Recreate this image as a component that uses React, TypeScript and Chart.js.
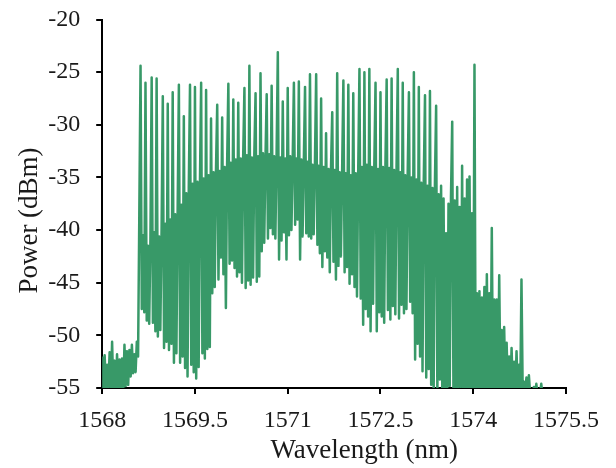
import React, { useEffect, useRef } from "react";
import { Chart, registerables } from "chart.js";

Chart.register(...registerables);

const WL_START = 1568;
const WL_STEP = 0.02;

const X_TICKS = [1568, 1569.5, 1571, 1572.5, 1574, 1575.5];
const Y_TICKS = [-55, -50, -45, -40, -35, -30, -25, -20];

const X_TITLE = "Wavelength (nm)";
const Y_TITLE = "Power (dBm)";

// 1568.00 - 1568.58 nm : noise floor before the comb
const powerFloorLeft = [
  -52.0, -55.5, -51.9, -55.6, -52.8, -54.9, -51.6, -55.4, -50.6, -55.3,
  -52.4, -55.7, -51.8, -55.2, -52.3, -55.5, -52.2, -55.4, -50.9, -54.8,
  -51.5, -54.7, -51.4, -53.9, -50.9, -53.6, -51.8, -53.5, -50.6, -52.0,
];

// 1568.60 - 1570.38 nm : rising side of the comb
const powerCombRise = [
  -38.5, -24.4, -47.5, -40.5, -47.8, -26.0, -48.6, -41.5, -48.9, -40.8,
  -25.5, -48.8, -40.2, -49.6, -25.6, -50.1, -40.6, -49.5, -40.0, -27.3,
  -51.2, -39.4, -50.6, -28.0, -51.4, -39.0, -50.8, -26.9, -52.6, -38.5,
  -51.7, -37.9, -26.2, -52.6, -37.6, -52.0, -29.2, -53.1, -36.5, -53.9,
  -36.0, -26.2, -52.8, -35.6, -53.5, -26.4, -54.1, -35.4, -53.0, -35.8,
  -26.0, -51.7, -35.1, -52.2, -26.7, -51.3, -34.8, -51.1, -29.4, -46.0,
  -34.5, -45.4, -34.2, -28.1, -44.7, -34.4, -42.6, -29.3, -44.2, -34.0,
  -47.4, -33.8, -26.1, -43.2, -33.6, -42.9, -27.6, -43.6, -33.3, -44.4,
  -27.9, -44.0, -33.2, -45.0, -33.0, -26.5, -45.5, -32.9, -44.8, -24.4,
];

// 1570.40 - 1572.18 nm : centre of the comb
const powerCombCenter = [
  -45.2, -33.1, -44.5, -32.8, -27.0, -44.9, -33.0, -44.4, -25.1, -42.0,
  -32.7, -41.2, -33.2, -27.1, -40.8, -32.8, -39.8, -26.3, -40.4, -33.0,
  -40.8, -32.9, -23.1, -42.8, -33.1, -41.0, -27.8, -40.2, -33.2, -42.8,
  -26.5, -40.5, -33.0, -40.0, -33.4, -26.0, -39.5, -33.2, -39.0, -25.9,
  -42.8, -33.3, -40.6, -33.6, -26.4, -40.3, -33.5, -40.6, -25.2, -40.8,
  -33.8, -40.4, -33.6, -25.2, -41.4, -33.9, -42.2, -27.5, -43.5, -34.0,
  -42.0, -30.8, -42.6, -34.2, -44.0, -34.0, -28.8, -43.0, -34.3, -44.7,
  -25.1, -43.4, -34.5, -42.5, -34.4, -25.8, -44.0, -34.6, -43.5, -26.2,
  -45.1, -34.8, -44.2, -27.0, -45.4, -34.6, -46.3, -34.4, -24.7, -46.5,
];

// 1572.20 - 1574.04 nm : falling side of the comb
const powerCombFall = [
  -34.0, -49.0, -25.0, -47.5, -33.8, -48.2, -24.7, -49.6, -34.0, -47.0,
  -33.9, -26.0, -49.6, -34.2, -47.8, -26.9, -48.2, -34.0, -48.8, -33.8,
  -25.7, -47.6, -34.1, -48.5, -25.6, -47.2, -34.3, -48.0, -34.0, -24.7,
  -48.4, -34.5, -47.1, -26.0, -47.9, -34.8, -47.5, -34.6, -26.9, -46.8,
  -35.0, -47.9, -25.0, -52.3, -35.2, -50.8, -26.4, -52.0, -35.5, -53.4,
  -35.3, -27.2, -54.0, -35.8, -53.2, -26.8, -54.7, -36.0, -55.5, -35.7,
  -28.2, -55.6, -36.6, -54.2, -35.8, -55.5, -37.0, -55.3, -40.3, -55.6,
  -37.5, -54.8, -36.8, -29.7, -55.5, -37.2, -55.4, -35.9, -55.6, -37.8,
  -54.9, -33.9, -55.6, -37.0, -55.3, -35.2, -55.7, -34.9, -55.2, -38.4,
  -55.5, -24.3, -55.6,
];

// 1574.06 - 1575.12 nm : tail after the comb
const powerTailRight = [
  -46.0, -55.4, -45.8, -55.6, -46.4, -55.3, -45.4, -55.5, -44.2, -55.6,
  -46.0, -55.2, -39.8, -55.5, -46.6, -55.4, -46.6, -55.6, -44.3, -55.3,
  -49.5, -55.6, -49.2, -55.4, -50.7, -55.5, -52.0, -55.6, -51.2, -55.4,
  -52.5, -55.6, -51.5, -55.5, -52.8, -55.6, -44.7, -55.5, -54.4, -55.6,
  -54.0, -55.6, -53.8, -55.6, -55.2, -55.7, -54.9, -55.6, -54.6, -55.6,
  -55.5, -55.6, -54.6, -55.8,
];

const LINE_COLOR = "rgb(56,153,104)";
const TEXT_COLOR = "#1a1a1a";
const FONT_FAMILY = "'Liberation Serif', 'Times New Roman', serif";

export default function App() {
  const ref = useRef<HTMLCanvasElement>(null);

  useEffect(() => {
    document.body.style.margin = "0";
    const power = [
      ...powerFloorLeft,
      ...powerCombRise,
      ...powerCombCenter,
      ...powerCombFall,
      ...powerTailRight,
    ];
    const points = power.map((p, i) => ({ x: WL_START + WL_STEP * i, y: p }));

    const axisTitles = {
      id: "axisTitles",
      afterDraw(chart: any) {
        const { ctx, chartArea } = chart;
        ctx.save();
        ctx.fillStyle = TEXT_COLOR;
        ctx.font = `27px ${FONT_FAMILY}`;
        ctx.textAlign = "center";
        ctx.textBaseline = "alphabetic";
        ctx.fillText(X_TITLE, chartArea.left + 262, chartArea.bottom + 70);
        ctx.translate(37, chartArea.top + 201);
        ctx.rotate(-Math.PI / 2);
        ctx.fillText(Y_TITLE, 0, 0);
        ctx.restore();
      },
    };

    const chart = new Chart(ref.current as HTMLCanvasElement, {
      type: "line",
      data: {
        datasets: [
          {
            data: points,
            borderColor: LINE_COLOR,
            backgroundColor: LINE_COLOR,
            borderWidth: 2.5,
            borderJoinStyle: "round",
            pointRadius: 0,
            fill: false,
            tension: 0,
          },
        ],
      },
      options: {
        animation: false,
        responsive: false,
        devicePixelRatio: 1,
        layout: { padding: { left: 0, top: 19.5, right: 50, bottom: 0 } },
        plugins: { legend: { display: false }, tooltip: { enabled: false } },
        scales: {
          x: {
            type: "linear",
            min: X_TICKS[0],
            max: X_TICKS[X_TICKS.length - 1],
            afterBuildTicks: (s: any) => {
              s.ticks = X_TICKS.map((v) => ({ value: v }));
            },
            afterFit: (s: any) => {
              s.height = 80;
              s.paddingLeft = 0;
              s.paddingRight = 0;
            },
            ticks: {
              autoSkip: false,
              maxRotation: 0,
              padding: 12,
              color: TEXT_COLOR,
              font: { family: FONT_FAMILY, size: 24 },
              callback: (v: any) => String(v),
            },
            grid: {
              display: true,
              drawOnChartArea: false,
              drawTicks: true,
              tickLength: 6,
              color: "#000",
              lineWidth: 2,
            },
            border: { display: true, color: "#000", width: 2 },
          },
          y: {
            type: "linear",
            min: Y_TICKS[0],
            max: Y_TICKS[Y_TICKS.length - 1],
            afterBuildTicks: (s: any) => {
              s.ticks = Y_TICKS.map((v) => ({ value: v }));
            },
            afterFit: (s: any) => {
              s.width = 102.2;
              s.paddingTop = 0;
              s.paddingBottom = 0;
            },
            ticks: {
              autoSkip: false,
              padding: 16,
              color: TEXT_COLOR,
              font: { family: FONT_FAMILY, size: 24 },
              callback: (v: any) => String(v),
            },
            grid: {
              display: true,
              drawOnChartArea: false,
              drawTicks: true,
              tickLength: 6,
              color: "#000",
              lineWidth: 2,
            },
            border: { display: true, color: "#000", width: 2 },
          },
        },
      },
      plugins: [axisTitles],
    });
    return () => chart.destroy();
  }, []);

  return (
    <div style={{ position: "absolute", left: 0, top: 0, width: 616, height: 468 }}>
      <canvas ref={ref} width={616} height={468} style={{ display: "block" }} />
    </div>
  );
}
